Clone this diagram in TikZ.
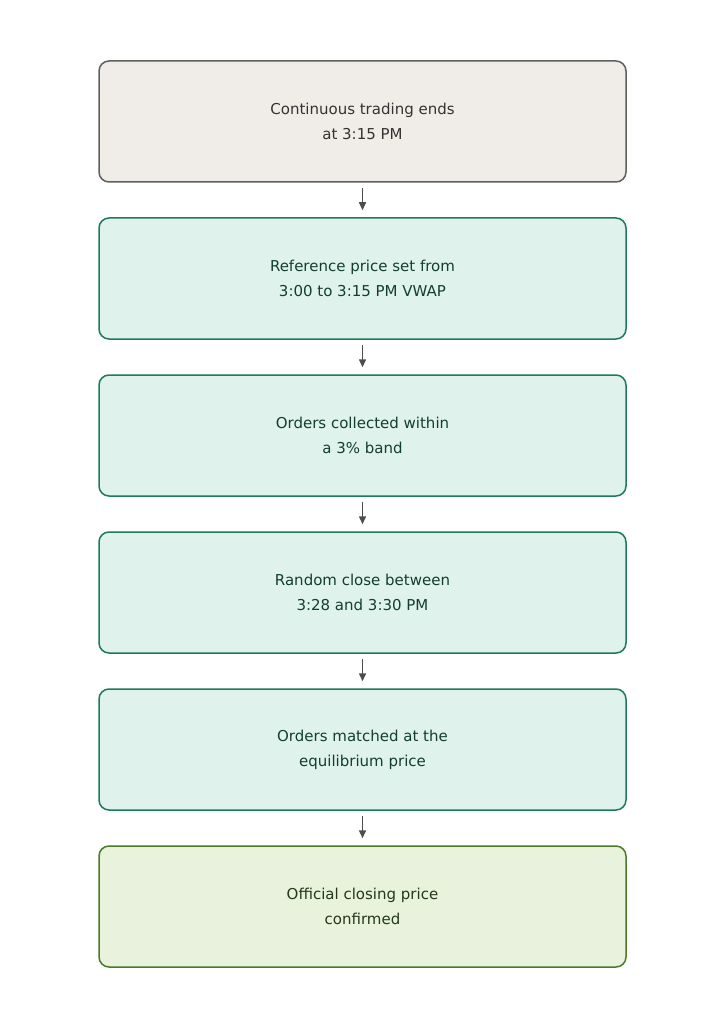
\documentclass[tikz,border=0pt]{standalone}
\usepackage{fontspec}
\setmainfont{DejaVu Sans}
\usetikzlibrary{positioning,arrows.meta}
\definecolor{startfill}{HTML}{F0EDE8}
\definecolor{startline}{HTML}{5F5F5F}
\definecolor{stepfill}{HTML}{E0F2EC}
\definecolor{stepline}{HTML}{1E7A5A}
\definecolor{steptext}{HTML}{123E30}
\definecolor{endfill}{HTML}{E8F2DC}
\definecolor{endline}{HTML}{4A7A2A}
\definecolor{endtext}{HTML}{25381A}
\definecolor{arrowgray}{HTML}{4D4D4D}
\tikzset{
  box/.style={draw,line width=1.5pt,rounded corners=10pt,minimum width=527pt,minimum height=121pt,
    align=center,font=\fontsize{15}{25}\selectfont},
  startbox/.style={box,fill=startfill,draw=startline,text=black!80},
  stepbox/.style={box,fill=stepfill,draw=stepline,text=steptext},
  finalbox/.style={box,fill=endfill,draw=endline,text=endtext},
  flow/.style={-{Triangle[length=8pt,width=7pt]},line width=1.5pt,color=arrowgray,shorten <=5pt,shorten >=7pt}
}
\begin{document}
\begin{tikzpicture}[x=1pt,y=-1pt,node distance=34.5pt]
        \useasboundingbox (0,0) rectangle (725,1024);
        \node[startbox] (close) at (362.5,121.5) {Continuous trading ends\\at 3:15 PM};
        \node[stepbox,below=of close] (refprice) {Reference price set from\\3:00 to 3:15 PM VWAP};
        \node[stepbox,below=of refprice] (collect) {Orders collected within\\a 3\% band};
        \node[stepbox,below=of collect] (random) {Random close between\\3:28 and 3:30 PM};
        \node[stepbox,below=of random] (match) {Orders matched at the\\equilibrium price};
        \node[finalbox,below=of match] (official) {Official closing price\\confirmed};
        \draw[flow] (close) -- (refprice);
        \draw[flow] (refprice) -- (collect);
        \draw[flow] (collect) -- (random);
        \draw[flow] (random) -- (match);
        \draw[flow] (match) -- (official);
\end{tikzpicture}
\end{document}
